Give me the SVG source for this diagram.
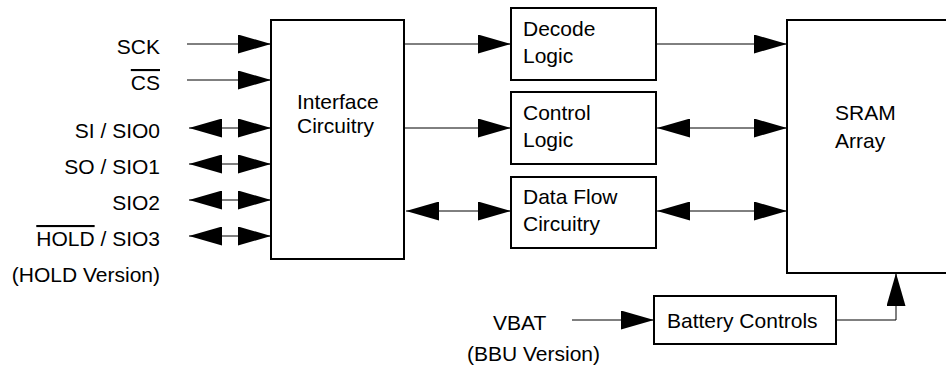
<svg xmlns="http://www.w3.org/2000/svg" width="946" height="369" viewBox="0 0 946 369">
<style>
text{font-family:"Liberation Sans",Arial,Helvetica,sans-serif;font-size:21px;fill:#000}
.lbl{text-anchor:end}
.box{fill:#fff;stroke:#000;stroke-width:2}
.wire{fill:none;stroke:#000;stroke-width:1}
.ov{text-decoration:overline}
</style>
<defs>
<marker id="ah" viewBox="0 0 33 19" refX="33" refY="9.5" markerWidth="33" markerHeight="19" markerUnits="userSpaceOnUse" orient="auto-start-reverse">
<path d="M0,0 L33,9.5 L0,19 z" fill="#000"/>
</marker>
</defs>
<rect width="946" height="369" fill="#fff"/>
<g id="connectors">
<line class="wire" x1="187" y1="44" x2="271" y2="44" marker-end="url(#ah)"/>
<line class="wire" x1="187" y1="80" x2="271" y2="80" marker-end="url(#ah)"/>
<line class="wire" x1="189" y1="128" x2="271" y2="128" marker-start="url(#ah)" marker-end="url(#ah)"/>
<line class="wire" x1="189" y1="164" x2="271" y2="164" marker-start="url(#ah)" marker-end="url(#ah)"/>
<line class="wire" x1="189" y1="200" x2="271" y2="200" marker-start="url(#ah)" marker-end="url(#ah)"/>
<line class="wire" x1="189" y1="236" x2="271" y2="236" marker-start="url(#ah)" marker-end="url(#ah)"/>
<line class="wire" x1="404" y1="44" x2="511" y2="44" marker-end="url(#ah)"/>
<line class="wire" x1="404" y1="128" x2="511" y2="128" marker-end="url(#ah)"/>
<line class="wire" x1="406" y1="211" x2="511" y2="211" marker-start="url(#ah)" marker-end="url(#ah)"/>
<line class="wire" x1="656" y1="44" x2="787" y2="44" marker-end="url(#ah)"/>
<line class="wire" x1="657" y1="128" x2="787" y2="128" marker-start="url(#ah)" marker-end="url(#ah)"/>
<line class="wire" x1="657" y1="211" x2="787" y2="211" marker-start="url(#ah)" marker-end="url(#ah)"/>
<line class="wire" x1="572" y1="320" x2="654" y2="320" marker-end="url(#ah)"/>
<polyline class="wire" points="836,320 896,320 896,273" marker-end="url(#ah)"/>
</g>
<g id="labels">
<text class="lbl" x="160" y="54">SCK</text>
<text class="lbl" x="160" y="90"><tspan class="ov">CS</tspan></text>
<text class="lbl" x="160" y="138">SI / SIO0</text>
<text class="lbl" x="160" y="174">SO / SIO1</text>
<text class="lbl" x="160" y="210">SIO2</text>
<text class="lbl" x="160" y="246"><tspan class="ov">HOLD</tspan> / SIO3</text>
<text class="lbl" x="160" y="282">(HOLD Version)</text>
<text x="493" y="330">VBAT</text>
<text x="467" y="361">(BBU Version)</text>
</g>
<g id="interface">
<rect class="box" x="271" y="20" width="133" height="239"/>
<text x="297" y="109">Interface</text>
<text x="297" y="133">Circuitry</text>
</g>
<g id="decode">
<rect class="box" x="511" y="8" width="145" height="72"/>
<text x="523" y="36">Decode</text>
<text x="523" y="63">Logic</text>
</g>
<g id="control">
<rect class="box" x="511" y="92" width="145" height="72"/>
<text x="523" y="120">Control</text>
<text x="523" y="147">Logic</text>
</g>
<g id="dataflow">
<rect class="box" x="511" y="177" width="145" height="71"/>
<text x="523" y="204">Data Flow</text>
<text x="523" y="231">Circuitry</text>
</g>
<g id="sram">
<rect class="box" x="787" y="20" width="170" height="253"/>
<text x="835" y="120">SRAM</text>
<text x="835" y="148">Array</text>
</g>
<g id="battery">
<rect class="box" x="654" y="296" width="182" height="48"/>
<text x="667" y="328">Battery Controls</text>
</g>
</svg>
